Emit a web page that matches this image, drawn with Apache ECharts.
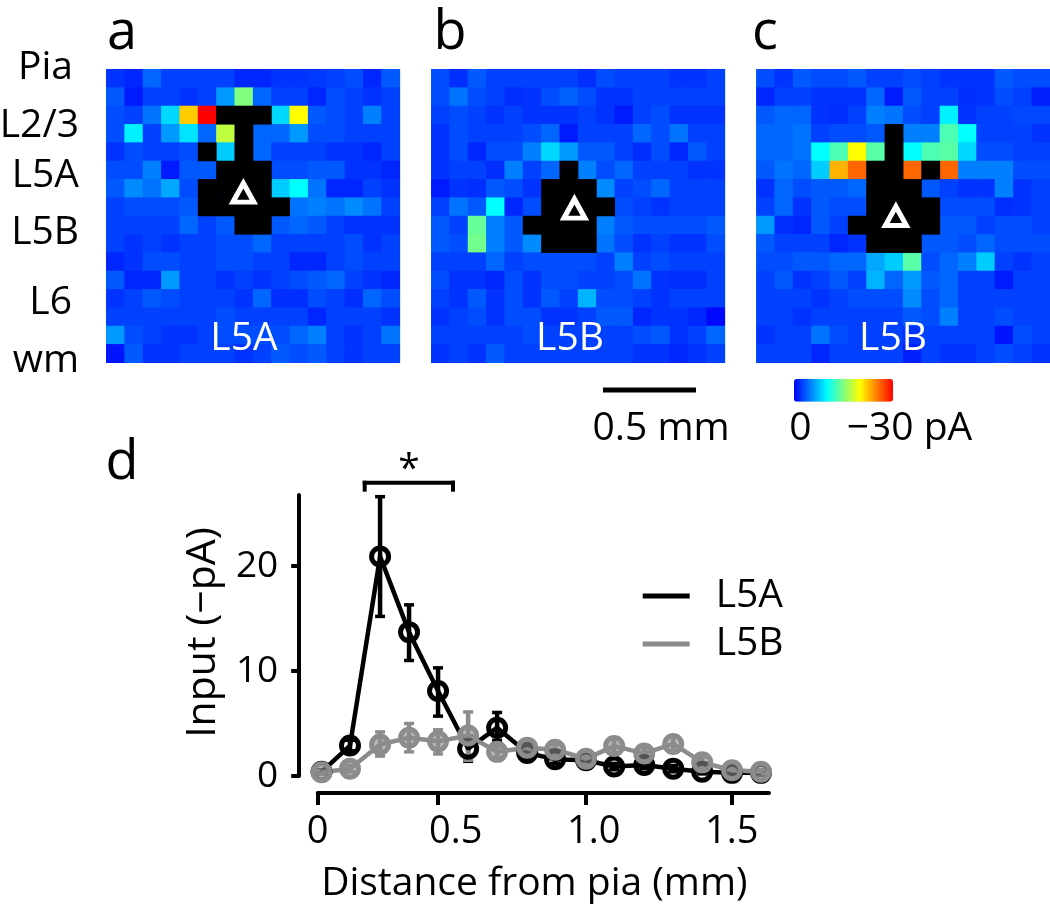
<!DOCTYPE html>
<html><head><meta charset="utf-8">
<style>html,body{margin:0;padding:0;background:#fff}#c{width:1050px;height:905px}</style>
<script src="https://cdn.jsdelivr.net/npm/echarts@6/dist/echarts.min.js"></script>
</head><body><div id="c"></div>
<script>
// -1 marks a black (masked) cell in the maps.
const B = -1;
const mapA = [
[2,1.5,4,2.5,2.5,2.5,2.5,1.5,1.5,2,2,2.2,2.5,3,1.5,3.5],
[3.5,1,2.5,2.5,2,2.5,6,15,4,2.5,2.5,1.5,3,2.5,2,2.5],
[3,2.5,4.5,8.5,22,30,B,B,B,8.5,20,3.5,3,2.5,5,2.5],
[3,9.5,2.5,6,9,4,17.5,B,4,4,6,3,3,2.5,2.5,2.5],
[2,3,2.5,2.5,3,B,8,B,4,2.5,2.5,2.5,2,2,1.5,2.5],
[3,3,5,1,3.5,3.5,B,B,B,3,3,3.5,3.5,2,2,1.5],
[3.5,5.5,4.5,6.5,3,B,B,B,B,8,10,4.5,1.5,1.5,2.5,2],
[2.5,3,3,3,3.5,B,B,B,B,B,4.5,5,4.5,5.5,4.5,2.5],
[2.5,2.5,2.5,2.5,4,2.5,3.5,B,B,3.5,4,3.5,2.5,2,2,2],
[2.5,2,2.5,2,2.5,2.5,3,3,4,2.5,2.5,2.5,2.5,3,2,2.5],
[1.5,2,3,3,2.5,2.5,3,3,2.5,2.5,1.5,1.5,2.5,3,2.5,2.5],
[3.5,1.5,1.5,6,2.5,2.5,2,2.5,2,2.5,3,3.5,4,2.5,2,1.5],
[2,2.5,3.5,3,2.5,2.5,2.5,2,4,1.8,1.8,3,2.5,1.8,4,3],
[2.5,2.5,2.5,2.5,2.5,2.5,3,2.5,2.5,2.5,2.5,1.5,2.5,2.5,2.5,2],
[6,3,2.5,2,2,2.5,3,3,3,3,4,5,2.5,2,2.5,4.5],
[0.8,3.5,2,2,2.5,2.5,2.5,2,2.5,3.5,3,3.5,2.5,2,2.5,2.5]];
const mapB = [
[3,1.8,3.5,2.5,2.5,2.5,2.5,2.5,1.8,3,2.5,2.5,2.5,2,2,2.5],
[3,4.5,3,2.5,1.8,2,3,3.8,3,2,2,2.5,2.5,2.5,2.5,2.5],
[2.5,3,2.5,2,2.5,2,2,2,2.5,2,1,2.5,3,2,2,2],
[2,3,2.5,2.5,2.5,3,4,1,2.5,2.5,2.5,4,3,4.5,2.5,2.5],
[2,3,1.5,3,3,5,8.5,6,3.5,3.5,2.5,1.8,3,1.5,3.5,2.5],
[2,2.5,2.5,1.8,5,2.5,4,B,5,3,4,2.5,2.5,2.5,2,2],
[1,2,1.8,3.5,3,2,B,B,B,5.5,2.5,3,4,2.5,2.5,2.5],
[2.5,4.5,3.5,10,1.5,3,B,B,B,B,3,2.5,2,2.5,2.5,2.5],
[3.5,2.5,14,5,3.5,B,B,B,B,5,3.5,3,3,3,3,3.5],
[3.5,3,14.5,5,3.5,5.5,B,B,B,4.5,3,2,2.5,2,2,3],
[2.5,2.5,2.5,4,2.5,3,3,3,3,2.5,5,2.5,3,2.5,2.5,2.5],
[3,2,2,1.5,3,2,3,3,2.5,2.5,3,4.5,2,1.8,1.8,2.5],
[2.5,2,3.5,2,3,2,3.5,2.5,7,3,3,2.5,2,2.5,2.5,2.5],
[2,2.5,3,2,3,3,2,2,2.5,3.5,3.5,1.5,2,2,1.5,0.3],
[2.5,2.5,2.5,2.5,2.5,3,2.5,2.5,2.5,2.5,2.5,3,3.5,2,2.5,4],
[2,2.5,2,3.5,2.5,2.5,2.5,2.5,2.5,2.5,2.5,2,2,1.5,2,2.5]];
const mapC = [
[3,2,3.5,3,3,3.5,2.5,2.5,3,2.5,2,2,2,3.5,3,3],
[1.5,2.5,2.5,2,2,2,4,1,3.5,2.5,2.5,1.8,2,3,2.5,1.2],
[3.5,4,4,2,1.8,2.5,5,4.5,3,2.5,9.5,2,2.5,2.5,2.8,2.8],
[4,4,4.5,2.5,3,3,3.5,B,5,5,13,10,2.5,2.5,2.5,2],
[4,4,4.5,10,13,20,13.5,B,10,13,13.5,8.5,3,3,2.5,2.5],
[3.5,4.5,4,8,23,26,B,B,26,B,26,5,5,5,3,3],
[2,4,3,3.5,3.5,4,B,B,B,3.5,2.5,2,2,5,2,2.5],
[2.5,4,2,3.5,3,3,B,B,B,B,3,3,3,1.8,2,2.5],
[6,1.8,1.5,3.5,2.5,B,B,B,B,B,3.5,3.5,2.5,3,3,2.5],
[3.5,2.5,2.5,2.5,1.5,2,B,B,B,3.5,3.5,3,4,3,3,3],
[3,3,3.5,3.5,4,4,6.5,8,13.5,3,4,5,8,2.5,2,2.5],
[2.5,3.5,2,2.5,3.5,2.5,7,4,6,3.5,4,2.5,2.5,1,2.5,2.5],
[2.5,2.5,2.5,2,2.5,3,3,3,5.5,3,4,2.5,2.5,2.5,2.5,2.5],
[2.5,2.5,2,2.5,2.5,2.5,2.5,2.5,3.5,3,5,2.5,2.5,3,2.5,2.5],
[2,2.5,2.5,4.5,3,2.5,2.5,2.5,2,2.5,2.5,2.5,2.5,0.8,3,2.5],
[2.5,2.5,2.5,1.5,2.5,2.5,2.5,2.5,1.2,2.5,2,2,2.5,3,2.5,2]];
const somaA = [7.47, 6.73];
const somaB = [7.8, 7.6];
const somaC = [7.6, 8.0];
const panelLabels = ['L5A', 'L5B', 'L5B'];
const layerLabels = ['Pia', 'L2/3', 'L5A', 'L5B', 'L6', 'wm'];

const distance = [0.014,0.117,0.226,0.331,0.436,0.545,0.650,0.759,0.860,0.972,1.074,1.183,1.288,1.393,1.501,1.606];
const inputL5A  = [0.4,2.9,20.9,13.7,8.1,2.6,4.6,2.2,1.6,1.5,0.9,1.05,0.7,0.4,0.3,0.3];
const lowL5A    = [0.2,2.4,15.2,11,5.7,1.4,3.4,1.8,1.2,1.2,0.6,0.7,0.4,0.2,0.1,0.1];
const highL5A   = [0.6,3.4,26.6,16.3,10.3,3.8,6.05,2.6,2,1.8,1.2,1.4,1,0.6,0.5,0.5];
const inputL5B  = [0.35,0.7,3.0,3.65,3.3,3.85,2.3,2.7,2.5,1.65,2.85,2.15,3.05,1.3,0.55,0.4];
const lowL5B    = [0.15,0.4,1.9,2.3,2.1,1.5,1.8,2.2,2,1.2,2.2,1.6,2.4,0.8,0.3,0.2];
const highL5B   = [0.55,1,4.2,5,4.4,6.1,2.8,3.2,3,2.1,3.5,2.7,3.7,1.8,0.8,0.6];
const xLabelTicks = [0, 0.5, 1.0, 1.5];
const xTickMarks = [0, 0.4348, 0.9696, 1.5];
const yTicks = [0, 10, 20];

const FONT = 'Open Sans';
const BLACK = '#000', GRAY = '#8c8c8c';
const idx = Array.from({length:16}, (_, i) => i);
const panelW = 293.6, panelH = 293.4, panelTop = 69.3;
const panelLeft = [106.3, 431.3, 756.4];
const maps = [mapA, mapB, mapC], somas = [somaA, somaB, somaC];

const grid = panelLeft.map(l => ({left:l, top:panelTop, width:panelW, height:panelH,
  show:true, backgroundColor:'#0050ff', borderWidth:0}));
grid.push({left:317.7, top:495, width:451.3, height:281});

const hideAxis = {show:false};
const xAxis = [], yAxis = [], series = [];
maps.forEach((m, p) => {
  xAxis.push({type:'category', gridIndex:p, data:idx, ...hideAxis});
  yAxis.push({type:'category', gridIndex:p, data:idx, inverse:true, ...hideAxis});
  series.push({type:'heatmap', xAxisIndex:p, yAxisIndex:p, silent:true,
    data:m.flatMap((row, r) => row.map((v, c) => [c, r, v])).filter(d => d[2] !== B),
    itemStyle:{borderWidth:0}});
});
maps.forEach((m, p) => {
  series.push({type:'heatmap', xAxisIndex:p, yAxisIndex:p, silent:true,
    data:m.flatMap((row, r) => row.map((v, c) => [c, r, v])).filter(d => d[2] === B),
    itemStyle:{color:'#000', borderWidth:0}});
});
maps.forEach((m, p) => {
  xAxis.push({type:'value', gridIndex:p, min:0, max:16, ...hideAxis});
  yAxis.push({type:'value', gridIndex:p, min:0, max:16, inverse:true, ...hideAxis});
  series.push({type:'scatter', xAxisIndex:xAxis.length-1, yAxisIndex:yAxis.length-1, silent:true,
    symbol:'triangle', symbolSize:[21,19], data:[somas[p]], z:5,
    itemStyle:{color:'transparent', borderColor:'#fff', borderWidth:5, borderJoin:'miter', opacity:1}});
});

const axisFont = {fontFamily:FONT, fontSize:39, color:'#000'};
const tickFont = {fontFamily:FONT, fontSize:38, color:'#000'};
const lineX = xAxis.length, lineY = yAxis.length;
xAxis.push({type:'value', gridIndex:3, min:0, max:1.635, position:'bottom', offset:17,
  name:'Distance from pia (mm)', nameLocation:'middle', nameGap:71,
  nameTextStyle:{...axisFont, padding:[0,18,0,0]},
  axisLine:{show:true, onZero:false, lineStyle:{color:BLACK, width:4}},
  axisTick:{show:true, length:12, customValues:xTickMarks, lineStyle:{color:BLACK, width:4}},
  axisLabel:{...tickFont, margin:20, customValues:xLabelTicks, formatter:v => v === 0 ? '0' : v.toFixed(1)},
  splitLine:{show:false}});
yAxis.push({type:'value', gridIndex:3, min:0, max:26.76, position:'left', offset:18.5,
  name:'Input (\u2212pA)', nameLocation:'middle', nameGap:75,
  nameTextStyle:{...axisFont, fontSize:41, padding:[0,0,0,6]},
  axisLine:{show:true, onZero:false, lineStyle:{color:BLACK, width:4}},
  axisTick:{show:true, length:8, customValues:yTicks, lineStyle:{color:BLACK, width:4}},
  axisLabel:{...tickFont, fontSize:37, margin:21, customValues:yTicks},
  splitLine:{show:false}});

function errBars(name, low, high, color) {
  return {type:'custom', name:name + ' s.e.m.', xAxisIndex:lineX, yAxisIndex:lineY, silent:true, clip:false,
    data:distance.map((d, i) => [d, low[i], high[i]]),
    renderItem(params, api) {
      const x = api.value(0);
      const a = api.coord([x, api.value(1)]), b = api.coord([x, api.value(2)]);
      const st = {stroke:color, lineWidth:4.5, fill:'none'};
      const cap = {stroke:color, lineWidth:3.5, fill:'none'};
      return {type:'group', children:[
        {type:'line', shape:{x1:a[0], y1:a[1], x2:b[0], y2:b[1]}, style:st},
        {type:'line', shape:{x1:a[0]-5, y1:a[1], x2:a[0]+5, y2:a[1]}, style:cap},
        {type:'line', shape:{x1:b[0]-5, y1:b[1], x2:b[0]+5, y2:b[1]}, style:cap}]};
    }};
}
function curve(name, vals, color, fill) {
  return {type:'line', name, xAxisIndex:lineX, yAxisIndex:lineY, silent:true, clip:false, animation:false,
    data:distance.map((d, i) => [d, vals[i]]),
    symbol:'circle', symbolSize:17, showSymbol:true,
    lineStyle:{color, width:4.5},
    itemStyle:{color:fill, borderColor:color, borderWidth:5}};
}
series.push(errBars('L5A', lowL5A, highL5A, BLACK), curve('L5A', inputL5A, BLACK, 'rgba(0,0,0,0)'),
            errBars('L5B', lowL5B, highL5B, GRAY), curve('L5B', inputL5B, GRAY, 'rgba(140,140,140,0.6)'));

function label(text, x, y, opt) {
  return {type:'text', x, y, silent:true, z:20,
    style:Object.assign({text, fontFamily:FONT, fontSize:39, fill:'#000', align:'center', verticalAlign:'middle'}, opt||{})};
}
function bar(x, y, w, h, fill) {
  return {type:'rect', shape:{x, y, width:w, height:h}, style:{fill:fill||'#000'}, silent:true, z:20};
}
const layerY = [68, 126, 176, 233, 303, 361];
const layerR = [73, 79, 79, 79, 72, 79];
const panelLabelX = [244, 570, 893];
const graphic = [
  label('a', 122, 34, {fontSize:54}),
  label('b', 450, 34, {fontSize:54}),
  label('c', 765, 34, {fontSize:54}),
  label('d', 122, 464, {fontSize:54}),
  ...layerLabels.map((t, i) => label(t, layerR[i], layerY[i], {align:'right'})),
  ...panelLabels.map((t, i) => label(t, panelLabelX[i], 339, {fill:'#fff'})),
  bar(603, 387.5, 93, 5),
  label('0.5 mm', 661, 429),
  label('0', 800.5, 429),
  label('\u221230 pA', 909.5, 429),
  bar(362.7, 480.7, 92.3, 4), bar(362.7, 480.7, 4, 11), bar(451, 480.7, 4, 11),
  label('*', 409, 470),
];

const chart = echarts.init(document.getElementById('c'), null, {renderer:'canvas'});
chart.setOption({
  animation:false,
  backgroundColor:'#fff',
  grid, xAxis, yAxis, series, graphic,
  visualMap:[{type:'continuous', seriesIndex:[0,1,2], min:0, max:30, orient:'horizontal',
    left:794, top:379, itemWidth:22.7, itemHeight:99, calculable:false, show:true, text:null, showLabel:false,
    inRange:{color:['#0000ff','#00ffff','#ffff00','#ff0000']},
    textStyle:{fontSize:1, color:'rgba(0,0,0,0)'}, padding:0}],
  legend:{show:true, orient:'vertical', left:642.7, top:572, itemWidth:47, itemHeight:5, itemGap:0, padding:0,
    selectedMode:false,
    textStyle:{...axisFont, padding:[18,0,0,21], lineHeight:30},
    data:[{name:'L5A', icon:'rect', itemStyle:{color:BLACK, borderWidth:0}},
          {name:'L5B', icon:'rect', itemStyle:{color:GRAY, borderWidth:0}}]}
});
</script></body></html>
